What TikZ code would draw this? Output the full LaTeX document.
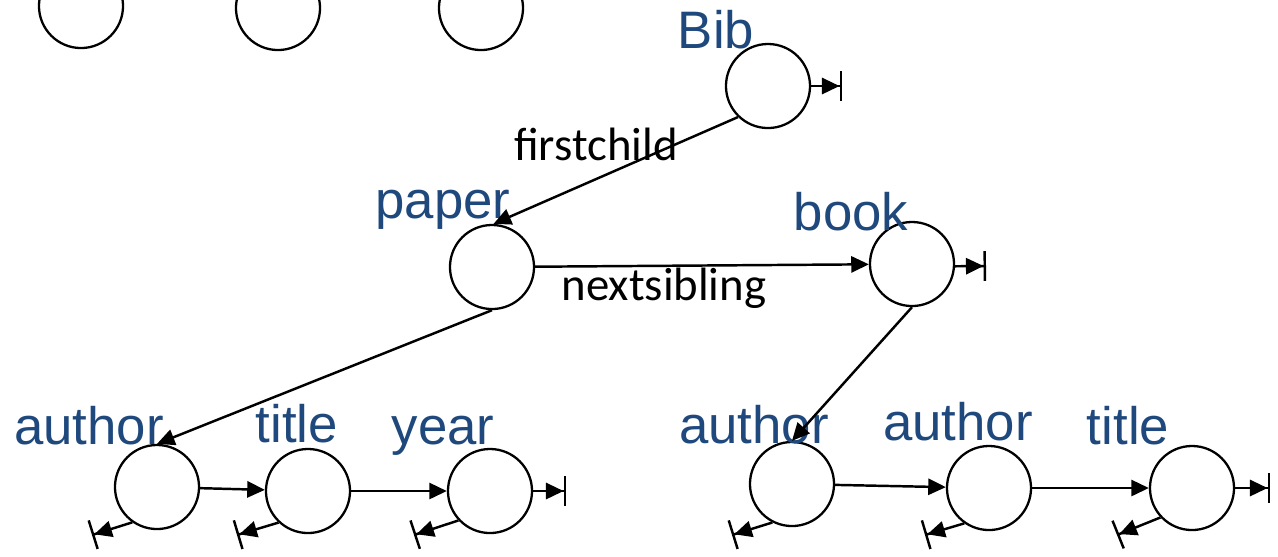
\documentclass[tikz,border=0pt]{standalone}
\usepackage{fontspec}
\setmainfont{Liberation Sans}
\newfontfamily\calib{Carlito}
\usetikzlibrary{arrows.meta}
\definecolor{lblue}{RGB}{31,73,125}
\begin{document}
\begin{tikzpicture}[x=0.01cm,y=-0.01cm,
  nd/.style={circle,draw,line width=0.65pt,minimum size=0.84cm,inner sep=0pt},
  lbl/.style={anchor=base,text=lblue,font=\fontsize{15}{18}\selectfont,inner sep=0pt},
  elbl/.style={anchor=base,font=\calib\fontsize{13.3}{16}\selectfont,inner sep=0pt},
  link/.style={line width=0.7pt,-{Triangle[length=5pt,width=4.6pt]}},
  nil/.style={line width=0.7pt,-{Triangle[length=5pt,width=4.6pt]Bar[width=8.5pt,line width=0.7pt]}}]
\path[use as bounding box] (0,0) rectangle (1278,556);
\clip (0,0) rectangle (1278,556);
% circles
\node[nd] (c1) at (81,6) {};
\node[nd] (c2) at (278,8) {};
\node[nd] (c3) at (481,8) {};
\node[nd] (bib) at (768,86) {};
\node[nd] (paper) at (492,267) {};
\node[nd] (book) at (912,264) {};
\node[nd] (a1) at (157,487) {};
\node[nd] (t1) at (308,491) {};
\node[nd] (y1) at (490,491) {};
\node[nd] (a2) at (792,484) {};
\node[nd] (a3) at (989,488) {};
\node[nd] (t2) at (1192,488) {};
% labels
\node[lbl] (lbib) at (716,48) {Bib};
\node[lbl] (lpaper) at (443,218) {paper};
\node[lbl] (lbook) at (851,230) {book};
\node[lbl] (la1) at (89,444) {author};
\node[lbl] (lt1) at (297,442) {title};
\node[lbl] (ly1) at (443,444) {year};
\node[lbl] (la2) at (754,443) {author};
\node[lbl] (la3) at (958,440) {author};
\node[lbl] (lt2) at (1128,444) {title};
\node[elbl] (lfc) at (596,160) {firstchild};
\node[elbl] (lns) at (664,300) {nextsibling};
% nil ends
\coordinate (bibnil) at (842,86);
\coordinate (booknil) at (986,266);
\coordinate (y1nil) at (566,491);
\coordinate (t2nil) at (1270,488);
\coordinate (a1d) at (92,535);
\coordinate (t1d) at (237,535);
\coordinate (y1d) at (414,535);
\coordinate (a2d) at (732,535);
\coordinate (a3d) at (925,535);
\coordinate (t2d) at (1117,535);
% links
\draw[link] (bib.226) -- (paper.88);
\draw[link] (paper) -- (book);
\draw[link] (paper.south) -- (a1.north);
\draw[link] (book.south) -- (a2.north);
\draw[link] (a1) -- (t1);
\draw[link] (t1) -- (y1);
\draw[link] (a2) -- (a3);
\draw[link] (a3) -- (t2);
% nil stubs
\draw[nil] (bib.east) -- (bibnil);
\draw[nil] (book.-3) -- (booknil);
\draw[nil] (y1.east) -- (y1nil);
\draw[nil] (t2.east) -- (t2nil);
\draw[nil] (a1.235) -- (a1d);
\draw[nil] (t1.227) -- (t1d);
\draw[nil] (y1.223) -- (y1d);
\draw[nil] (a2.243) -- (a2d);
\draw[nil] (a3.235) -- (a3d);
\draw[nil] (t2.223) -- (t2d);
\end{tikzpicture}
\end{document}
